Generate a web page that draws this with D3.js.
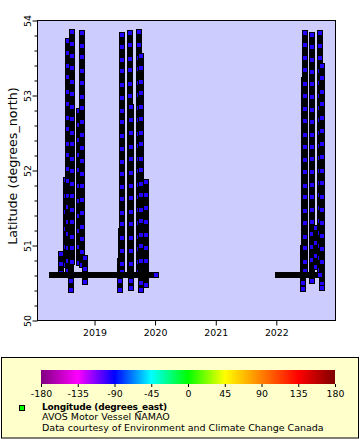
<!DOCTYPE html>
<html><head><meta charset="utf-8">
<script src="https://cdn.jsdelivr.net/npm/d3@7"></script>
<style>html,body{margin:0;padding:0;background:#fff}svg{display:block}</style>
</head><body>
<svg id="chart" width="360" height="440"></svg>
<script>
// ---------- data ----------
const latTicks = [50, 51, 52, 53, 54];
const latMinorTicks = [50.2,50.4,50.6,50.8,51.2,51.4,51.6,51.8,52.2,52.4,52.6,52.8,53.2,53.4,53.6,53.8];
const yearTicks = ["2019-01-01", "2020-01-01", "2021-01-01", "2022-01-01"];
const timeDomain = ["2018-01-22", "2022-12-24"];
const colorTicks = [-180, -135, -90, -45, 0, 45, 90, 135, 180];
const colorStops = ["#800080", "#ff00ff", "#0000ff", "#00ffff", "#00ff00", "#ffff00", "#ff8000", "#ff0000", "#800000"];

// voyages north from port: date of trip, longitude colour, observed latitudes
const tripDates = ["2018-06-13","2018-07-10","2018-07-22","2018-08-10","2018-08-19","2018-09-30","2018-10-18","2018-11-07",
  "2019-06-04","2019-06-10","2019-06-16","2019-08-03","2019-08-09","2019-09-27","2019-10-06","2019-11-08",
  "2022-06-11","2022-06-17","2022-06-23","2022-08-04","2022-08-29","2022-09-22","2022-10-04"];
const tripLons = [-96,-96,-96,-96,-96,-96,-96,-96, -96,-96,-96,-96,-96,-96,-96,-96, -96,-96,-96,-96,-96,-96,-96];
const tripLats = [
  [50.89, 50.76, 50.64],
  [51.87, 51.66, 51.45, 51.22, 50.98, 50.74],
  [53.73, 53.57, 53.40, 53.25, 53.05, 52.88, 52.70, 52.55, 52.36, 52.21, 52.02, 51.86, 51.66, 51.51, 51.32, 51.15, 50.97, 50.80, 50.66],
  [51.60, 51.40, 51.19, 50.98, 50.79, 50.53, 50.41],
  [53.84, 53.69, 53.52, 53.37, 53.18, 53.02, 52.84, 52.69, 52.50, 52.35, 52.15, 52.00, 51.82, 51.66, 51.47, 51.31, 51.12, 50.96, 50.78],
  [52.80, 52.60, 52.41, 52.20, 52.01, 51.80, 51.59, 51.40, 51.19, 50.98, 50.77],
  [53.83, 53.66, 53.51, 53.33, 53.17, 52.98, 52.83, 52.64, 52.48, 52.30, 52.13, 51.95, 51.79, 51.60, 51.44, 51.25, 51.09, 50.91, 50.74],
  [50.83, 50.69, 50.51],
  [50.79, 50.52, 50.41],
  [51.19, 51.01, 50.82, 50.66],
  [53.81, 53.65, 53.48, 53.32, 53.14, 52.97, 52.80, 52.64, 52.46, 52.29, 52.12, 51.95, 51.78, 51.62, 51.44, 51.28, 51.10, 50.93, 50.76, 50.65],
  [53.83, 53.67, 53.49, 53.34, 53.16, 53.00, 52.82, 52.66, 52.49, 52.32, 52.15, 51.98, 51.81, 51.65, 51.47, 51.30, 51.13, 50.96, 50.79, 50.66],
  [52.85, 52.67, 52.50, 52.32, 52.15, 51.97, 51.80, 51.63, 51.45, 51.28, 51.10, 50.93, 50.75, 50.52, 50.43],
  [53.84, 53.68, 53.50, 53.35, 53.17, 53.01, 52.83, 52.67, 52.49, 52.33, 52.15, 51.99, 51.81, 51.64, 51.47, 51.30, 51.12, 50.95, 50.78, 50.65],
  [53.53, 53.37, 53.18, 53.03, 52.84, 52.69, 52.50, 52.35, 52.16, 52.01, 51.82, 51.67, 51.48, 51.33, 51.14, 50.99, 50.80, 50.50, 50.41],
  [51.85, 51.67, 51.50, 51.31, 51.14, 50.96, 50.79, 50.62, 50.47],
  [50.96, 50.79, 50.50, 50.42],
  [53.21, 53.02, 52.84, 52.65, 52.47, 52.28, 52.10, 51.91, 51.73, 51.54, 51.36, 51.17, 50.99, 50.80, 50.68],
  [53.83, 53.67, 53.50, 53.34, 53.16, 53.00, 52.82, 52.66, 52.48, 52.32, 52.14, 51.98, 51.80, 51.64, 51.46, 51.30, 51.12, 50.96, 50.78, 50.66],
  [53.81, 53.64, 53.48, 53.31, 53.15, 52.98, 52.81, 52.65, 52.48, 52.31, 52.15, 51.98, 51.81, 51.65, 51.48, 51.31, 51.15, 50.98, 50.81, 50.56, 50.52],
  [51.23, 51.04, 50.86, 50.72],
  [53.83, 53.66, 53.50, 53.33, 53.17, 53.00, 52.83, 52.67, 52.50, 52.33, 52.17, 52.00, 51.83, 51.67, 51.50, 51.33, 51.17, 51.00, 50.83, 50.68],
  [53.40, 53.23, 53.05, 52.88, 52.70, 52.53, 52.35, 52.18, 52.00, 51.83, 51.65, 51.48, 51.30, 51.13, 50.95, 50.78, 50.49, 50.43]
];
// time alongside at the home port (continuous observations)
const portStart = ["2018-04-20", "2022-01-12"];
const portEnd = ["2020-01-05", "2022-09-23"];
const portLat = [50.61, 50.61];
const portLon = [-96, -96];

const legendLines = ["Longitude (degrees_east)", "AVOS Motor Vessel N\u0304AMAO", "Data courtesy of Environment and Climate Change Canada"];

// ---------- drawing ----------
const FONT = "DejaVu Sans";
const parse = d3.utcParse("%Y-%m-%d");
const svg = d3.select("#chart");
svg.append("rect").attr("width", 360).attr("height", 440).attr("fill", "#fff");

const x = d3.scaleUtc().domain(timeDomain.map(parse)).range([37.5, 335.5]);
const y = d3.scaleLinear().domain([50, 54]).range([320.5, 20.5]);
const color = d3.scaleLinear().domain(colorTicks).range(colorStops).clamp(true);

const [px0, px1] = x.range(), [py1, py0] = y.range();
svg.append("rect").attr("x", px0).attr("y", py0).attr("width", px1 - px0).attr("height", py1 - py0).attr("fill", "#ccccff");

svg.append("clipPath").attr("id", "clip").append("rect")
  .attr("x", px0).attr("y", py0).attr("width", px1 - px0).attr("height", py1 - py0);
const g = svg.append("g").attr("clip-path", "url(#clip)");

function marker(sel, cx, cy, fill) {
  sel.append("rect").attr("x", cx - 2.5).attr("y", cy - 2.5).attr("width", 5).attr("height", 5)
    .attr("fill", fill).attr("stroke", "#000").attr("stroke-width", 1);
}

tripDates.forEach((d, i) => {
  const cx = Math.round(x(parse(d)));
  const lats = tripLats[i];
  const yTop = Math.round(y(d3.max(lats))), yBot = Math.round(y(d3.min(lats)));
  const tg = g.append("g");
  tg.append("rect").attr("x", cx - 3).attr("y", yTop - 3).attr("width", 6).attr("height", yBot - yTop + 6).attr("fill", "#000");
  lats.forEach(v => marker(tg, cx, Math.round(y(v)), color(tripLons[i])));
});

portStart.forEach((s, i) => {
  const x0 = Math.round(x(parse(s))), x1 = Math.round(x(parse(portEnd[i])));
  const cy = Math.round(y(portLat[i]));
  g.append("rect").attr("x", x0 - 3).attr("y", cy - 3).attr("width", x1 - x0 + 6).attr("height", 6).attr("fill", "#000");
  marker(g, x1, cy, color(portLon[i]));
});

// frame
svg.append("rect").attr("x", px0).attr("y", py0).attr("width", px1 - px0).attr("height", py1 - py0)
  .attr("fill", "none").attr("stroke", "#000").attr("stroke-width", 1);

// axes
const xAxis = svg.append("g").attr("transform", `translate(0,${py1})`)
  .call(d3.axisBottom(x).tickValues(yearTicks.map(parse)).tickFormat(d3.utcFormat("%Y")).tickSize(5));
xAxis.select(".domain").remove();
xAxis.selectAll("line").attr("stroke", "#000");
xAxis.selectAll("text").attr("y", 15).attr("dy", null).attr("font-family", FONT).attr("font-size", 9.4).attr("fill", "#000");

const yMinor = svg.append("g").attr("transform", `translate(${px0},0)`)
  .call(d3.axisLeft(y).tickValues(latMinorTicks).tickSize(3).tickFormat(""));
yMinor.select(".domain").remove();
yMinor.selectAll("line").attr("stroke", "#000");

const yAxis = svg.append("g").attr("transform", `translate(${px0},0)`)
  .call(d3.axisLeft(y).tickValues(latTicks).tickSize(5).tickFormat(d3.format("d")));
yAxis.select(".domain").remove();
yAxis.selectAll("line").attr("stroke", "#000");
yAxis.selectAll("text").attr("x", null).attr("dy", null).attr("text-anchor", "middle")
  .attr("transform", "translate(-7,0) rotate(-90)")
  .attr("font-family", FONT).attr("font-size", 9.4).attr("fill", "#000");

svg.append("text").attr("transform", "translate(16.5,166) rotate(-90)").attr("text-anchor", "middle")
  .attr("font-family", FONT).attr("font-size", 12.7).attr("fill", "#000").text("Latitude (degrees_north)");

// legend box
svg.append("rect").attr("x", 1.5).attr("y", 357.5).attr("width", 357).attr("height", 80.5)
  .attr("fill", "#ffffcc").attr("stroke", "#000").attr("stroke-width", 1);

// colour bar
const cbX = d3.scaleLinear().domain([-180, 180]).range([41, 335]);
const grad = svg.append("defs").append("linearGradient").attr("id", "cb")
  .attr("x1", "0%").attr("x2", "100%").attr("y1", "0%").attr("y2", "0%");
colorTicks.forEach((v, i) => grad.append("stop").attr("offset", ((v + 180) / 360 * 100) + "%").attr("stop-color", colorStops[i]));
svg.append("rect").attr("x", cbX(-180)).attr("y", 370).attr("width", cbX(180) - cbX(-180)).attr("height", 14).attr("fill", "url(#cb)");
const cbAxis = svg.append("g").attr("transform", "translate(0,384)")
  .call(d3.axisBottom(cbX).tickValues(colorTicks).tickSize(3).tickFormat(d3.format("d")));
cbAxis.select(".domain").remove();
cbAxis.selectAll("line").attr("stroke", "#000");
cbAxis.selectAll("text").attr("y", 13).attr("dy", null).attr("font-family", FONT).attr("font-size", 9.4).attr("fill", "#000")
  .text(d => d < 0 ? "-" + Math.abs(d) : d);

// legend entry
svg.append("rect").attr("x", 19.5).attr("y", 405.5).attr("width", 5).attr("height", 5)
  .attr("fill", "#00ff00").attr("stroke", "#000").attr("stroke-width", 1);
const lineY = [409.6, 420.3, 431.0];
legendLines.forEach((t, i) => {
  svg.append("text").attr("x", 42).attr("y", lineY[i]).attr("font-family", FONT)
    .attr("font-size", i === 0 ? 9 : 9.5)
    .attr("letter-spacing", i === 0 ? -0.2 : 0)
    .attr("font-weight", i === 0 ? "bold" : "normal").attr("fill", "#000").text(t);
});
</script>
</body></html>
